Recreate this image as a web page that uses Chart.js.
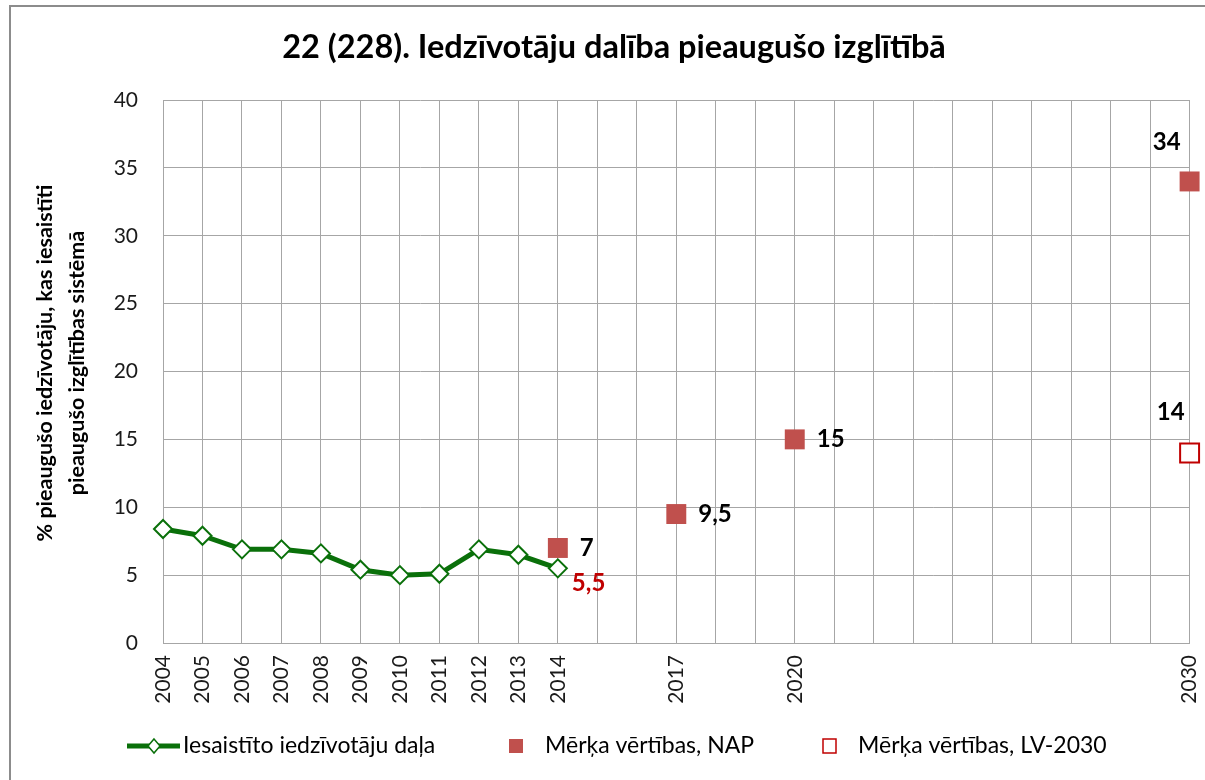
<!DOCTYPE html>
<html><head><meta charset="utf-8">
<script src="https://cdn.jsdelivr.net/npm/chart.js@4/dist/chart.umd.min.js"></script>
<style>html,body{margin:0;padding:0;background:#fff}canvas{display:block}</style>
</head><body>
<canvas id="c" width="1205" height="780"></canvas>
<script>
// ---- data ----
const years = [2004,2005,2006,2007,2008,2009,2010,2011,2012,2013,2014];
const shareValues = [8.4,7.9,6.9,6.9,6.6,5.4,5.0,5.1,6.9,6.5,5.5];
const napYears = [2014,2017,2020,2030];
const napValues = [7,9.5,15,34];
const lvYears = [2030];
const lvValues = [14];
const tickYears = [2004,2005,2006,2007,2008,2009,2010,2011,2012,2013,2014,2017,2020,2030];
const seriesNames = ['Iesaistīto iedzīvotāju daļa','Mērķa vērtības, NAP','Mērķa vērtības, LV-2030'];
const titleText = '22 (228). Iedzīvotāju dalība pieaugušo izglītībā';
const yTitleLines = ['% pieaugušo iedzīvotāju, kas iesaistīti','pieaugušo izglītības sistēmā'];

const FONT = 'Lato, Carlito, "Liberation Sans", sans-serif';
const GREEN = '#0A700A';
const NAP_RED = '#C0504D';
const LV_RED = '#C00000';
const GRID = '#A6A6A6';
const fmt = v => String(v).replace('.', ',');

const toXY = (xs, ys) => xs.map((x, i) => ({x, y: ys[i]}));

const decor = {
  id: 'decor',
  beforeDraw(chart) {
    const ctx = chart.ctx;
    ctx.save();
    ctx.fillStyle = '#fff';
    ctx.fillRect(0, 0, chart.width, chart.height);
    ctx.strokeStyle = '#8C8C8C';
    ctx.lineWidth = 2;
    ctx.beginPath();
    ctx.moveTo(10, chart.height + 2);
    ctx.lineTo(10, 6);
    ctx.lineTo(chart.width + 2, 6);
    ctx.stroke();
    ctx.restore();
  },
  afterDatasetsDraw(chart) {
    const ctx = chart.ctx;
    ctx.save();
    ctx.font = 'bold 24px ' + FONT;
    ctx.textBaseline = 'middle';
    const nap = chart.getDatasetMeta(1).data;
    nap.forEach((pt, i) => {
      const yr = napYears[i];
      ctx.fillStyle = '#000';
      if (yr === 2030) {
        ctx.textAlign = 'right';
        ctx.fillText(fmt(napValues[i]), pt.x - 9, pt.y - 39);
      } else {
        ctx.textAlign = 'left';
        ctx.fillText(fmt(napValues[i]), pt.x + 22, pt.y);
      }
    });
    const lv = chart.getDatasetMeta(2).data;
    lv.forEach((pt, i) => {
      ctx.fillStyle = '#000';
      ctx.textAlign = 'right';
      ctx.fillText(fmt(lvValues[i]), pt.x - 5, pt.y - 41);
    });
    const line = chart.getDatasetMeta(0).data;
    const last = line[line.length - 1];
    ctx.fillStyle = LV_RED;
    ctx.textAlign = 'left';
    ctx.fillText(fmt(shareValues[shareValues.length - 1]), last.x + 14, last.y + 15);
    ctx.restore();
  },
  afterDraw(chart) {
    const ctx = chart.ctx;
    ctx.save();
    ctx.fillStyle = '#000';
    ctx.font = 'bold 32.5px ' + FONT;
    ctx.textAlign = 'center';
    ctx.textBaseline = 'middle';
    ctx.fillText(titleText, 614, 48);
    ctx.font = 'bold 21.5px ' + FONT;
    ctx.save();
    ctx.translate(45, 363);
    ctx.rotate(-Math.PI / 2);
    ctx.fillText(yTitleLines[0], 0, 0);
    ctx.fillText(yTitleLines[1], 0, 32);
    ctx.restore();
    const ly = 746;
    ctx.font = '23px ' + FONT;
    ctx.textAlign = 'left';
    ctx.strokeStyle = GREEN;
    ctx.lineWidth = 5;
    ctx.beginPath(); ctx.moveTo(127, ly); ctx.lineTo(180, ly); ctx.stroke();
    ctx.fillStyle = '#fff'; ctx.lineWidth = 1.5;
    ctx.beginPath();
    ctx.moveTo(154, ly - 7); ctx.lineTo(160, ly); ctx.lineTo(154, ly + 7); ctx.lineTo(148, ly);
    ctx.closePath(); ctx.fill(); ctx.stroke();
    ctx.fillStyle = '#000';
    ctx.fillText(seriesNames[0], 183, ly);
    ctx.fillStyle = NAP_RED;
    ctx.fillRect(509, ly - 7, 14, 14);
    ctx.fillStyle = '#000';
    ctx.fillText(seriesNames[1], 545, ly);
    ctx.strokeStyle = LV_RED; ctx.lineWidth = 1.5;
    ctx.strokeRect(823, ly - 7, 13, 14);
    ctx.fillText(seriesNames[2], 858, ly);
    ctx.restore();
  }
};

new Chart(document.getElementById('c'), {
  data: {
    datasets: [
      {
        type: 'line', label: seriesNames[0], data: toXY(years, shareValues),
        borderColor: GREEN, borderWidth: 5, backgroundColor: '#fff',
        pointStyle: 'rectRot', pointRadius: 9, pointBorderWidth: 2,
        pointBorderColor: GREEN, pointBackgroundColor: '#fff', tension: 0,
        clip: false, order: 2
      },
      {
        type: 'scatter', label: seriesNames[1], data: toXY(napYears, napValues),
        pointStyle: 'rect', pointRadius: 14.1, pointBorderWidth: 0,
        pointBackgroundColor: NAP_RED, pointBorderColor: NAP_RED, backgroundColor: NAP_RED,
        clip: false, order: 1
      },
      {
        type: 'scatter', label: seriesNames[2], data: toXY(lvYears, lvValues),
        pointStyle: 'rect', pointRadius: 13.4, pointBorderWidth: 2,
        pointBackgroundColor: '#fff', pointBorderColor: LV_RED, backgroundColor: '#fff',
        clip: false, order: 1
      }
    ]
  },
  options: {
    responsive: false,
    animation: false,
    layout: { padding: { left: 0, right: 15, top: 100, bottom: 57 } },
    plugins: { legend: { display: false }, title: { display: false }, tooltip: { enabled: false } },
    scales: {
      x: {
        type: 'linear', min: 2004, max: 2030,
        afterBuildTicks(scale) {
          const t = [];
          for (let y = 2004; y <= 2030; y++) t.push({ value: y });
          scale.ticks = t;
        },
        afterFit(scale) { scale.height = 80; scale.paddingLeft = 0; scale.paddingRight = 0; },
        ticks: {
          autoSkip: false, minRotation: 90, maxRotation: 90, padding: 12,
          color: '#1a1a1a', font: { family: FONT, size: 21 },
          callback: v => tickYears.includes(v) ? String(v) : ''
        },
        grid: { color: GRID, lineWidth: 1, drawTicks: false },
        border: { display: true, color: GRID, width: 1 }
      },
      y: {
        min: 0, max: 40,
        afterFit(scale) { scale.width = 163; scale.paddingTop = 0; scale.paddingBottom = 0; },
        ticks: {
          stepSize: 5, padding: 25, color: '#1a1a1a',
          font: { family: FONT, size: 21 }
        },
        grid: { color: GRID, lineWidth: 1, drawTicks: false },
        border: { display: true, color: GRID, width: 1 }
      }
    }
  },
  plugins: [decor]
});
</script>
</body></html>
